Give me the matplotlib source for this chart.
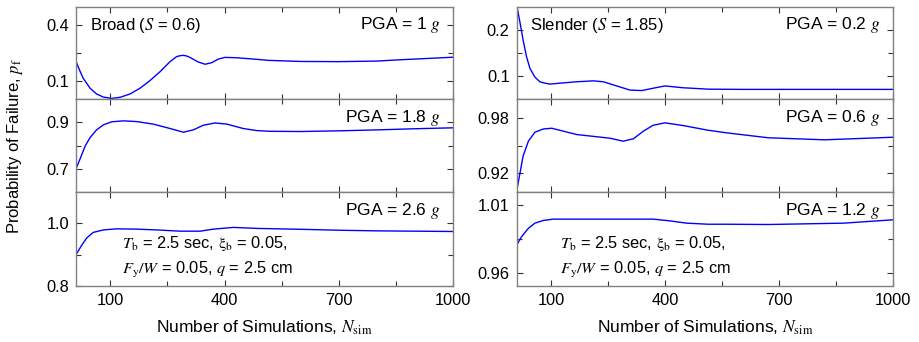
import numpy as np
import matplotlib
matplotlib.use("Agg")
import matplotlib.pyplot as plt

plt.rcParams['font.family'] = ['Liberation Sans', 'DejaVu Sans']
plt.rcParams['mathtext.fontset'] = 'stix'

N_tl = [10, 20, 29, 47, 64, 82, 104, 126, 152, 178, 204, 231, 257, 274, 283, 292, 300, 309,
        331, 349, 366, 384, 401, 432, 476, 515, 600, 700, 800, 860, 900, 1000]
pf_tl = [0.205, 0.155, 0.114, 0.060, 0.029, 0.012, 0.005, 0.011, 0.029, 0.060, 0.101, 0.150,
         0.204, 0.231, 0.236, 0.238, 0.235, 0.227, 0.202, 0.190, 0.198, 0.218, 0.227, 0.225,
         0.218, 0.211, 0.205, 0.204, 0.207, 0.214, 0.218, 0.228]

N_ml = [10, 20, 34, 47, 64, 82, 104, 134, 169, 213, 257, 292, 318, 344, 375, 406, 449, 485,
        520, 600, 700, 800, 900, 1000]
pf_ml = [0.700, 0.740, 0.798, 0.835, 0.868, 0.890, 0.903, 0.907, 0.904, 0.893, 0.874, 0.858,
         0.868, 0.888, 0.898, 0.893, 0.874, 0.865, 0.862, 0.861, 0.864, 0.868, 0.873, 0.877]

N_bl = [10, 25, 38, 55, 82, 117, 169, 222, 283, 336, 371, 423, 485, 600, 700, 800, 900, 1000]
pf_bl = [0.900, 0.930, 0.953, 0.971, 0.979, 0.9825, 0.9815, 0.979, 0.975, 0.975, 0.9815,
         0.987, 0.9838, 0.981, 0.978, 0.976, 0.975, 0.974]

N_tr = [10, 19, 27, 36, 45, 58, 71, 84, 98, 124, 168, 212, 238, 273, 308, 339, 369, 400,
        448, 514, 600, 700, 800, 900, 1000]
pf_tr = [0.255, 0.215, 0.178, 0.142, 0.117, 0.098, 0.088, 0.085, 0.083, 0.085, 0.088, 0.090,
         0.088, 0.079, 0.070, 0.069, 0.074, 0.079, 0.075, 0.072, 0.0715, 0.0715, 0.0715,
         0.0715, 0.0715]

N_mr = [10, 19, 27, 41, 58, 80, 102, 133, 168, 212, 256, 290, 317, 343, 369, 400, 448, 514,
        563, 672, 820, 1000]
pf_mr = [0.901, 0.921, 0.939, 0.955, 0.9645, 0.968, 0.9688, 0.9656, 0.962, 0.960, 0.958,
         0.9548, 0.9574, 0.9656, 0.972, 0.9746, 0.9717, 0.9666, 0.9638, 0.9585, 0.9563, 0.9591]

N_br = [10, 23, 41, 58, 80, 106, 168, 256, 369, 413, 457, 514, 563, 672, 870, 1000]
pf_br = [0.9805, 0.9868, 0.993, 0.9968, 0.9988, 0.9998, 0.9998, 0.9998, 0.9998, 0.9985,
         0.9968, 0.996, 0.996, 0.9958, 0.9968, 0.9993]

x_ticks = [100, 400, 700, 1000]
x_minor = [250, 550, 850]

panels = [
    # (N, pf, ylim, major, labels, minor, pga)
    [(N_tl, pf_tl, (0, 0.5), [0.1, 0.4], ["0.1", "0.4"], [0.25], "1"),
     (N_ml, pf_ml, (0.6, 1.0), [0.7, 0.9], ["0.7", "0.9"], [0.8], "1.8"),
     (N_bl, pf_bl, (0.8, 1.1), [0.8, 1.0], ["0.8", "1.0"], [0.9], "2.6")],
    [(N_tr, pf_tr, (0.05, 0.25), [0.1, 0.2], ["0.1", "0.2"], [0.15], "0.2"),
     (N_mr, pf_mr, (0.9, 1.0), [0.92, 0.98], ["0.92", "0.98"], [0.95], "0.6"),
     (N_br, pf_br, (0.95, 1.02), [0.96, 1.01], ["0.96", "1.01"], [0.985], "1.2")],
]
titles = ["Broad ($S$ = 0.6)", "Slender ($S$ = 1.85)"]

fig = plt.figure(figsize=(9.2, 3.42), dpi=100)
lefts = [0.0826, 0.5616]
widths = [0.4098, 0.4091]
rows = [(0.7096, 0.2700), (0.4386, 0.2710), (0.1637, 0.2749)]

for c in range(2):
    for r in range(3):
        N, pf, ylim, maj, lab, mnr, pga = panels[c][r]
        ax = fig.add_axes([lefts[c], rows[r][0], widths[c], rows[r][1]])
        ax.plot(N, pf, color='#0000ff', lw=1.0)
        ax.set_xlim(10, 1000)
        ax.set_ylim(*ylim)
        ax.set_yticks(maj)
        ax.set_yticklabels(lab)
        ax.set_yticks(mnr, minor=True)
        ax.set_xticks(x_ticks)
        ax.set_xticks(x_minor, minor=True)
        ax.tick_params(which='both', direction='in', top=True, right=True,
                       labelsize=11.8, pad=5, color='#333333')
        ax.tick_params(which='major', length=4.5, width=0.8)
        ax.tick_params(which='minor', length=3.5, width=0.8)
        for s in ax.spines.values():
            s.set_color('#808080')
            s.set_linewidth(1.0)
        if r < 2:
            ax.set_xticklabels([])
        else:
            ax.set_xlabel(r"Number of Simulations, $N_\mathrm{sim}$", fontsize=12.5, labelpad=8)
            x0 = 0.121 if c == 0 else 0.115
            ax.text(x0, 0.45, r"$T_\mathrm{b}$ = 2.5 sec, $\mathrm{\xi}_\mathrm{b}$ = 0.05,",
                    transform=ax.transAxes, fontsize=11.8, va='center', ha='left')
            ax.text(x0, 0.17, r"$F_\mathrm{y}/W$ = 0.05, $q$ = 2.5 cm",
                    transform=ax.transAxes, fontsize=11.8, va='center', ha='left')
        if r == 0:
            ax.text(0.036, 0.80, titles[c], transform=ax.transAxes, fontsize=12,
                    va='center', ha='left')
        ax.text(0.968, 0.80, "PGA = " + pga + " $g$", transform=ax.transAxes, fontsize=12.5,
                va='center', ha='right')

fig.text(0.016, 0.5717, r"Probability of Failure, $p_\mathrm{f}$", rotation=90,
         fontsize=12, va='center', ha='center')

fig.savefig("out.png", dpi=100)
